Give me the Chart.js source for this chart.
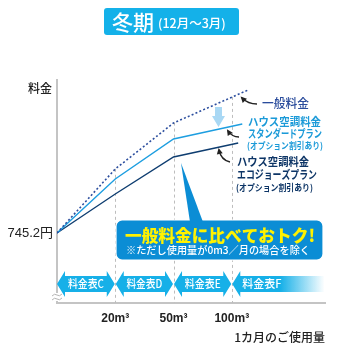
<!DOCTYPE html>
<html>
<head>
<meta charset="utf-8">
<script src="https://cdn.jsdelivr.net/npm/chart.js@4"></script>
<style>
  body { margin: 0; background: #fff; }
  canvas { display: block; }
</style>
</head>
<body>
<canvas id="chart" width="345" height="345"></canvas>
<script>
// usage ticks (positions 1..3 on the x scale)
const usageTicks = ["20m³", "50m³", "100m³"];
const baseValue = 70;
const baseLabel = "745.2円";

// 一般料金 (dotted)
const generalX = [0, 1, 2, 3.28];
const generalY = [70, 134, 180, 213];
// スタンダードプラン
const standardX = [0, 1, 2, 3.18];
const standardY = [70, 124, 164, 179];
// エコジョーズプラン
const ecoX = [0, 1, 2, 3.11];
const ecoY = [70, 109, 146, 160];

const rateTables = ["料金表C", "料金表D", "料金表E", "料金表F"];

const JP = '"Noto Sans CJK JP", sans-serif';
const LAT = '"Liberation Sans", "Noto Sans CJK JP", sans-serif';

function toPoints(xs, ys) {
  return xs.map((x, i) => ({ x: x, y: ys[i] }));
}

function text(c, str, x, y, font, color, maxW, align) {
  c.font = font;
  c.fillStyle = color;
  c.textAlign = align || "left";
  c.textBaseline = "middle";
  if (maxW) c.fillText(str, x, y, maxW);
  else c.fillText(str, x, y);
}

function curvedArrow(c, tx, ty, cx, cy, hx, hy) {
  c.save();
  c.strokeStyle = "#222";
  c.fillStyle = "#222";
  c.lineWidth = 1.3;
  c.beginPath();
  c.moveTo(tx, ty);
  c.quadraticCurveTo(cx, cy, hx, hy);
  c.stroke();
  const ang = Math.atan2(hy - cy, hx - cx);
  c.beginPath();
  c.moveTo(hx + Math.cos(ang) * 2, hy + Math.sin(ang) * 2);
  c.lineTo(hx + Math.cos(ang + 2.5) * 5, hy + Math.sin(ang + 2.5) * 5);
  c.lineTo(hx + Math.cos(ang - 2.5) * 5, hy + Math.sin(ang - 2.5) * 5);
  c.closePath();
  c.fill();
  c.restore();
}

const decor = {
  id: "decor",
  beforeDatasetsDraw(chart) {
    const c = chart.ctx;
    const x = chart.scales.x;
    const area = chart.chartArea;
    const pts = chart.getDatasetMeta(0).data;
    c.save();
    c.strokeStyle = "#bdbdbd";
    c.lineWidth = 1;
    c.setLineDash([3, 3]);
    usageTicks.forEach((t, i) => {
      const px = Math.round(x.getPixelForValue(i + 1)) + 0.5;
      let top = area.top;
      for (let k = 0; k < pts.length - 1; k++) {
        if (px >= pts[k].x && px <= pts[k + 1].x) {
          const f = (px - pts[k].x) / (pts[k + 1].x - pts[k].x);
          top = pts[k].y + f * (pts[k + 1].y - pts[k].y);
        }
      }
      c.beginPath();
      c.moveTo(px, top);
      c.lineTo(px, area.bottom);
      c.stroke();
    });
    c.restore();
  },
  afterDraw(chart) {
    const c = chart.ctx;
    const x = chart.scales.x;
    const area = chart.chartArea;
    c.save();

    // title box
    c.fillStyle = "#14b1e9";
    c.beginPath();
    c.roundRect(104, 8, 135, 27, 3);
    c.fill();
    text(c, "冬期", 112, 22, "500 21px " + JP, "#fff", 42);
    text(c, "(12月〜3月)", 158, 23, "500 12.5px " + JP, "#fff", 72);

    // y label
    text(c, "料金", 28, 88, "500 12px " + JP, "#222");

    // light blue down arrow
    c.fillStyle = "#a9d8f4";
    c.beginPath();
    c.moveTo(215, 107); c.lineTo(222, 107); c.lineTo(222, 116);
    c.lineTo(225, 116); c.lineTo(218.5, 127); c.lineTo(212, 116);
    c.lineTo(215, 116); c.closePath();
    c.fill();

    // series labels
    text(c, "一般料金", 262, 103, "500 12.5px " + JP, "#2a4c9c", 47);
    text(c, "ハウス空調料金", 248, 122, "bold 11px " + JP, "#1b9ad8", 73);
    text(c, "スタンダードプラン", 248, 134, "bold 11px " + JP, "#1b9ad8", 74);
    text(c, "(オプション割引あり)", 247, 146, "bold 9px " + JP, "#1b9ad8", 76);
    text(c, "ハウス空調料金", 237, 162, "bold 11.5px " + JP, "#0d3566", 72);
    text(c, "エコジョーズプラン", 237, 175, "bold 11.5px " + JP, "#0d3566", 80);
    text(c, "(オプション割引あり)", 236, 188, "bold 9px " + JP, "#0d3566", 77);

    curvedArrow(c, 257, 104, 248, 104, 242, 98);
    curvedArrow(c, 239, 137, 232, 137, 228, 131);
    curvedArrow(c, 230, 162, 221, 160, 219, 150);

    // rate table arrows
    const yc = area.bottom - 19;
    const edges = [0, 1, 2, 3].map((v) => x.getPixelForValue(v));
    edges.push(area.right);
    rateTables.forEach((name, i) => {
      const a = edges[i] + (i ? 0.5 : 0);
      const b = edges[i + 1] - 0.5;
      const last = i === rateTables.length - 1;
      c.beginPath();
      c.moveTo(a, yc);
      c.lineTo(a + 8, yc - 13);
      c.lineTo(a + 8, yc - 8);
      if (last) {
        c.lineTo(b, yc - 8);
        c.lineTo(b, yc + 8);
      } else {
        c.lineTo(b - 8, yc - 8);
        c.lineTo(b - 8, yc - 13);
        c.lineTo(b, yc);
        c.lineTo(b - 8, yc + 13);
        c.lineTo(b - 8, yc + 8);
      }
      c.lineTo(a + 8, yc + 8);
      c.lineTo(a + 8, yc + 13);
      c.closePath();
      if (last) {
        const g = c.createLinearGradient(a, 0, b, 0);
        g.addColorStop(0, "#16b0e8");
        g.addColorStop(0.52, "#16b0e8");
        g.addColorStop(1, "rgba(22,176,232,0)");
        c.fillStyle = g;
      } else {
        c.fillStyle = "#16b0e8";
      }
      c.fill();
      if (last) text(c, name, a + 10, yc, "500 11px " + JP, "#fff", 40);
      else text(c, name, (a + b) / 2, yc, "500 11px " + JP, "#fff", 36, "center");
    });

    // axis break mark
    c.fillStyle = "#fff";
    c.fillRect(53, 293, 8, 8);
    c.strokeStyle = "#b5b5b5";
    c.lineWidth = 1;
    [295, 299].forEach((yy) => {
      c.beginPath();
      c.moveTo(52, yy + 1);
      c.quadraticCurveTo(54.5, yy - 2, 57, yy);
      c.quadraticCurveTo(59.5, yy + 2, 62, yy - 1);
      c.stroke();
    });

    // callout
    c.fillStyle = "#0b8dd5";
    c.beginPath();
    c.roundRect(116, 220, 207, 40, 6);
    c.fill();
    c.strokeStyle = "#fff";
    c.lineWidth = 1.2;
    c.stroke();
    c.beginPath();
    c.moveTo(181, 163);
    c.lineTo(203, 222);
    c.lineTo(190, 222);
    c.closePath();
    c.fill();
    text(c, "一般料金に比べておトク!", 125, 236, "900 17px " + JP, "#fff200", 190);
    text(c, "※ただし使用量が0m3／月の場合を除く", 126, 250, "500 10.5px " + JP, "#fff", 184);

    c.restore();
  },
};

const ctx = document.getElementById("chart").getContext("2d");
new Chart(ctx, {
  type: "line",
  data: {
    datasets: [
      {
        label: "一般料金",
        data: toPoints(generalX, generalY),
        borderColor: "#2c4e9e",
        borderWidth: 1.6,
        borderDash: [2, 2.2],
        pointRadius: 0,
        fill: false,
      },
      {
        label: "スタンダードプラン",
        data: toPoints(standardX, standardY),
        borderColor: "#1d9ee0",
        borderWidth: 1.4,
        pointRadius: 0,
        fill: false,
      },
      {
        label: "エコジョーズプラン",
        data: toPoints(ecoX, ecoY),
        borderColor: "#0e3d70",
        borderWidth: 1.4,
        pointRadius: 0,
        fill: false,
      },
    ],
  },
  options: {
    responsive: false,
    animation: false,
    devicePixelRatio: 1,
    layout: { padding: { top: 80, right: 20, left: 0, bottom: 0 } },
    plugins: { legend: { display: false }, tooltip: { enabled: false } },
    scales: {
      x: {
        type: "linear",
        min: 0,
        max: 4.6,
        grid: { display: false, drawTicks: false },
        border: { color: "#c4c4c4", width: 2 },
        afterBuildTicks: (s) => {
          s.ticks = usageTicks.map((t, i) => ({ value: i + 1 }));
        },
        ticks: {
          callback: (v) => usageTicks[v - 1],
          font: { family: LAT, size: 12, weight: "bold" },
          color: "#222",
          padding: 8,
          maxRotation: 0,
          autoSkip: false,
        },
        title: {
          display: true,
          text: "1カ月のご使用量",
          align: "end",
          font: { family: JP, size: 12, weight: "500" },
          color: "#222",
          padding: { top: 0, bottom: 0 },
        },
        afterFit: (s) => {
          s.height = 42;
        },
      },
      y: {
        min: 0,
        max: 223,
        grid: { display: false, drawTicks: false },
        border: { color: "#c4c4c4", width: 2 },
        afterBuildTicks: (s) => {
          s.ticks = [{ value: baseValue }];
        },
        ticks: {
          callback: () => baseLabel,
          font: { family: LAT, size: 13 },
          color: "#222",
          padding: 4,
        },
        afterFit: (s) => {
          s.width = 57;
        },
      },
    },
  },
  plugins: [decor],
});
</script>
</body>
</html>
